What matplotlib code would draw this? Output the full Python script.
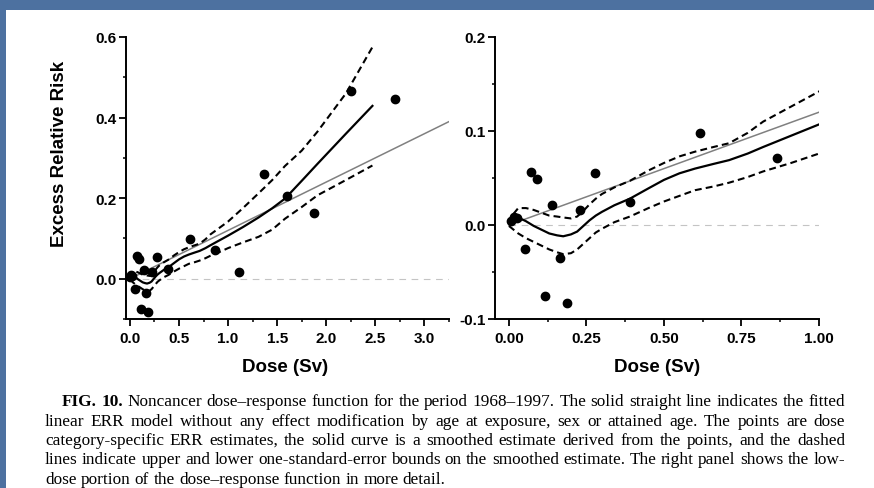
import matplotlib
matplotlib.use("Agg")
import matplotlib.pyplot as plt
from matplotlib.patches import Rectangle
from matplotlib.ticker import MultipleLocator, FormatStrFormatter

# dose category-specific ERR estimates
dose_pts = [0.005, 0.015, 0.025, 0.051, 0.072, 0.091, 0.115, 0.139, 0.164, 0.188,
            0.228, 0.277, 0.39, 0.616, 0.863, 1.11, 1.37, 1.60, 1.87, 2.25, 2.70]
err_pts = [0.004, 0.008, 0.007, -0.026, 0.056, 0.049, -0.075, 0.021, -0.035, -0.083,
           0.0155, 0.055, 0.025, 0.098, 0.071, 0.017, 0.26, 0.205, 0.164, 0.465, 0.445]

# smoothed estimate and one-standard-error bounds
curve_dose = [0.0, 0.015, 0.03, 0.055, 0.08, 0.105, 0.13, 0.155, 0.175, 0.20, 0.22,
              0.24, 0.26, 0.28, 0.30, 0.34, 0.39, 0.45, 0.50, 0.55, 0.60, 0.66, 0.71,
              0.77, 0.82, 0.91, 1.00, 1.15, 1.31, 1.45, 1.58, 1.75, 1.91, 2.20, 2.47]
curve_mid = [0.003, 0.006, 0.008, 0.004, -0.001, -0.005, -0.009, -0.011, -0.012,
             -0.010, -0.007, -0.001, 0.005, 0.010, 0.014, 0.021, 0.028, 0.039, 0.048,
             0.055, 0.060, 0.065, 0.069, 0.076, 0.083, 0.095, 0.107, 0.128, 0.152,
             0.175, 0.199, 0.243, 0.285, 0.360, 0.429]
curve_hi = [0.001, 0.012, 0.018, 0.018, 0.016, 0.013, 0.010, 0.009, 0.008, 0.007,
            0.009, 0.015, 0.022, 0.028, 0.033, 0.040, 0.047, 0.058, 0.066, 0.073,
            0.078, 0.083, 0.087, 0.098, 0.110, 0.126, 0.142, 0.175, 0.212, 0.245,
            0.280, 0.318, 0.365, 0.460, 0.575]
curve_lo = [-0.001, -0.005, -0.009, -0.014, -0.018, -0.022, -0.026, -0.029, -0.031,
            -0.030, -0.026, -0.020, -0.014, -0.008, -0.004, 0.003, 0.009, 0.018,
            0.025, 0.031, 0.037, 0.041, 0.045, 0.051, 0.057, 0.066, 0.076, 0.090,
            0.104, 0.122, 0.149, 0.178, 0.207, 0.245, 0.281]

# fitted linear ERR model (per Sv)
fit_slope = 0.12

caption = [
    [("FIG. 10.", True), ("Noncancer dose–response function for the period 1968–1997. "
                          "The solid straight line indicates the fitted", False)],
    [("linear ERR model without any effect modification by age at exposure, sex or "
      "attained age. The points are dose", False)],
    [("category-specific ERR estimates, the solid curve is a smoothed estimate derived "
      "from the points, and the dashed", False)],
    [("lines indicate upper and lower one-standard-error bounds on the smoothed "
      "estimate. The right panel shows the low-", False)],
    [("dose portion of the dose–response function in more detail.", False)],
]

plt.rcParams['axes.unicode_minus'] = False
sans = ['Liberation Sans', 'DejaVu Sans']
serif = ['Liberation Serif', 'DejaVu Serif']

W, H = 874, 489
fig = plt.figure(figsize=(W / 100, H / 100), dpi=100)
fig.patch.set_facecolor('#4d71a0')
fig.add_artist(Rectangle((6 / W, 0), 1 - 6 / W, (H - 11) / H, transform=fig.transFigure,
                         facecolor='white', edgecolor='none', zorder=-5))


def px_axes(x0, x1, ytop, ybot):
    return fig.add_axes([x0 / W, 1 - ybot / H, (x1 - x0) / W, (ybot - ytop) / H])


def style(ax, xmaj, xmin_, ymaj, ymin_, xfmt, yfmt):
    ax.patch.set_alpha(0)
    for s in ('top', 'right'):
        ax.spines[s].set_visible(False)
    for s in ('left', 'bottom'):
        ax.spines[s].set_linewidth(1.4)
    ax.xaxis.set_major_locator(MultipleLocator(xmaj))
    ax.xaxis.set_minor_locator(MultipleLocator(xmin_))
    ax.yaxis.set_major_locator(MultipleLocator(ymaj))
    ax.yaxis.set_minor_locator(MultipleLocator(ymin_))
    ax.xaxis.set_major_formatter(FormatStrFormatter(xfmt))
    ax.yaxis.set_major_formatter(FormatStrFormatter(yfmt))
    ax.tick_params(which='major', direction='out', length=5, width=1.3, pad=2,
                   labelsize=11)
    ax.tick_params(which='minor', direction='out', length=2.5, width=1.1)
    ax.tick_params(axis='x', pad=3.5)
    for lab in ax.get_xticklabels() + ax.get_yticklabels():
        lab.set_fontweight('bold')
        lab.set_family(sans)


def draw(ax, xmax):
    ax.plot([0, xmax], [0, 0], color='#c4c4c4', lw=0.8, dashes=(6, 5), zorder=1)
    ax.plot([0, xmax], [0, fit_slope * xmax], color='#808080', lw=1.1, zorder=2)
    ax.plot(curve_dose, curve_hi, color='black', lw=1.5, dashes=(3.3, 2), zorder=3)
    ax.plot(curve_dose, curve_lo, color='black', lw=1.5, dashes=(3.3, 2), zorder=3)
    ax.plot(curve_dose, curve_mid, color='black', lw=1.6, zorder=4)
    ax.plot(dose_pts, err_pts, 'o', color='black', ms=6, zorder=5)


ax1 = px_axes(126, 449, 38, 320)
ax1.set_xlim(-0.04, 3.25)
ax1.set_ylim(-0.1, 0.6)
draw(ax1, 3.25)
style(ax1, 0.5, 0.25, 0.2, 0.1, '%.1f', '%.1f')

ax2 = px_axes(495, 819, 38, 320)
ax2.set_xlim(-0.045, 1.0)
ax2.set_ylim(-0.1, 0.2)
draw(ax2, 1.0)
style(ax2, 0.25, 0.125, 0.1, 0.05, '%.2f', '%.1f')

lab = dict(weight='bold', size=13.5, family=sans, ha='center', va='center')
fig.text(59 / W, 1 - 154 / H, 'Excess Relative Risk', rotation=90, **lab)
fig.text(285 / W, 1 - 368 / H, 'Dose (Sv)', **lab)
fig.text(657 / W, 1 - 368 / H, 'Dose (Sv)', **lab)

# caption set word by word so that full lines are justified
renderer = fig.canvas.get_renderer()
cap_size = 12.4
baselines = [406, 425.5, 445, 464.5, 484]
for i, runs in enumerate(caption):
    words = []
    for text, bold in runs:
        words += [(w, bold) for w in text.split(' ')]
    objs = [fig.text(0, 1 - baselines[i] / H, w, ha='left', va='baseline', size=cap_size,
                     family=serif, weight='bold' if b else 'normal') for w, b in words]
    widths = [t.get_window_extent(renderer).width for t in objs]
    x0 = 62 if i == 0 else 45
    if i < len(caption) - 1:
        gap = (845 - x0 - sum(widths)) / (len(objs) - 1)
    else:
        gap = 0.25 * cap_size * 100 / 72
    x = x0
    for t, w in zip(objs, widths):
        t.set_x(x / W)
        x += w + gap

fig.savefig('out.png', dpi=100, facecolor=fig.get_facecolor())
